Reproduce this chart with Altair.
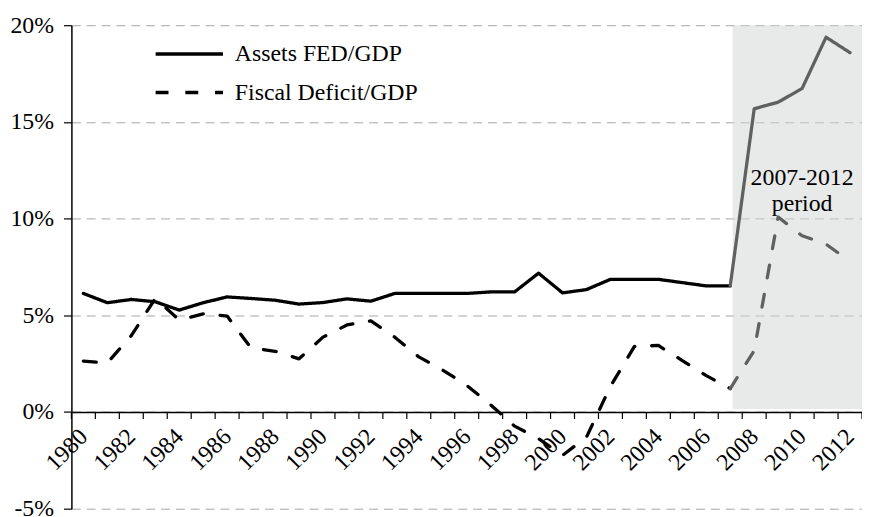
import altair as alt
import pandas as pd

# ---- data ----
years = list(range(1980, 2013))
assets_fed_gdp = [6.13, 5.65, 5.82, 5.70, 5.27, 5.65, 5.95, 5.87, 5.78, 5.58,
                  5.66, 5.85, 5.73, 6.13, 6.13, 6.13, 6.13, 6.21, 6.21, 7.18,
                  6.16, 6.33, 6.86, 6.86, 6.86, 6.69, 6.52, 6.52, 15.68, 16.02,
                  16.73, 19.38, 18.58]
fiscal_deficit_gdp = [2.63, 2.54, 3.95, 5.87, 4.76, 5.07, 4.96, 3.31, 3.14, 2.75,
                      3.87, 4.50, 4.71, 3.87, 2.85, 2.17, 1.38, 0.37, -0.73, -1.38,
                      -2.24, -1.30, 1.33, 3.39, 3.44, 2.66, 1.88, 1.21, 3.17, 10.08,
                      9.11, 8.68, 7.78]
series_names = ["Assets FED/GDP", "Fiscal Deficit/GDP"]
split_year = 2007
shade_start, shade_end = 2007.1, 2012.5
shade_top, shade_bottom = 20, 0.15
annot_lines = ["2007-2012", "period"]
annot_x = 2010.0
annot_y = [12.1, 10.75]
y_ticks = [-5, 0, 5, 10, 15, 20]
label_years = list(range(1980, 2013, 2))
tick_edges = [y - 0.5 for y in range(1980, 2014)]

FONT = "Liberation Serif"
FS = 24

rows = []
for name, vals in zip(series_names, [assets_fed_gdp, fiscal_deficit_gdp]):
    for yr, v in zip(years, vals):
        if yr <= split_year:
            rows.append({"year": yr, "value": v, "series": name, "seg": "pre"})
        if yr >= split_year:
            rows.append({"year": yr, "value": v, "series": name, "seg": "post"})
df = pd.DataFrame(rows)

shade_df = pd.DataFrame([{"x": shade_start, "x2": shade_end, "y": shade_top, "y2": shade_bottom}])
annot_df = pd.DataFrame({"text": annot_lines, "y": annot_y, "x": [annot_x] * len(annot_lines)})
ticks_df = pd.DataFrame({"edge": tick_edges})

x_scale = alt.Scale(domain=[1979.5, 2012.5], nice=False, zero=False)
y_scale = alt.Scale(domain=[-5, 20], nice=False, zero=False)

H = 488
W = 798
x_offset = -(H * 5 / 25)

x_axis = alt.Axis(
    values=label_years,
    format="d",
    ticks=False,
    domainColor="black", domainWidth=1.5,
    labelAngle=-45, labelAlign="right", labelBaseline="middle",
    labelFont=FONT, labelFontSize=FS, labelColor="black",
    labelPadding=21, labelOverlap=False, labelFlush=False, labelBound=False,
    grid=False, title=None, offset=x_offset,
)
y_axis = alt.Axis(
    values=y_ticks,
    labelExpr="datum.value + '%'",
    tickSize=8, tickColor="black", tickWidth=1.2,
    domainColor="black", domainWidth=1.5,
    labelFont=FONT, labelFontSize=FS, labelColor="black", labelPadding=10,
    grid=True, gridColor="#a6a6a6", gridDash=[9, 6], gridWidth=1,
    title=None,
)

X = lambda f: alt.X(f, scale=x_scale, axis=x_axis)
Y = lambda f: alt.Y(f, scale=y_scale, axis=y_axis)

shade = alt.Chart(shade_df).mark_rect(color="#d2d4d4", opacity=0.5).encode(
    x=X("x:Q"), x2="x2:Q", y=Y("y:Q"), y2="y2:Q",
)

# category separator ticks hanging below the 0% axis line
ticks = alt.Chart(ticks_df).mark_rule(color="black", strokeWidth=1.2).encode(
    x=X("edge:Q"),
    y=alt.value(H * 20 / 25),
    y2=alt.value(H * 20 / 25 + 7),
)

lines = alt.Chart(df).mark_line(strokeWidth=3.3, strokeCap="round", strokeJoin="round").encode(
    x=X("year:Q"),
    y=Y("value:Q"),
    color=alt.Color("seg:N", scale=alt.Scale(domain=["pre", "post"], range=["#000000", "#606060"]),
                    legend=None),
    strokeDash=alt.StrokeDash(
        "series:N",
        scale=alt.Scale(domain=series_names, range=[[1, 0], [13, 17]]),
        legend=alt.Legend(
            title=None, orient="none", legendX=83, legendY=16,
            symbolType="stroke", symbolSize=4624, symbolStrokeWidth=3.5,
            symbolStrokeColor="black", clipHeight=26, rowPadding=13,
            labelFont=FONT, labelFontSize=FS, labelColor="black", labelOffset=10,
            labelLimit=0, padding=0,
        ),
    ),
    order="year:Q",
)

annot = alt.Chart(annot_df).mark_text(font=FONT, fontSize=FS, color="black", align="center",
                                      baseline="middle").encode(
    x=X("x:Q"), y=Y("y:Q"), text="text:N",
)

chart = alt.layer(shade, ticks, lines, annot).properties(
    width=W, height=H,
    padding={"left": 64, "top": 15, "right": 0, "bottom": 6},
    autosize="none",
).configure_view(stroke=None)

chart.save("out.html", embed_options={"renderer": "svg", "actions": False})
